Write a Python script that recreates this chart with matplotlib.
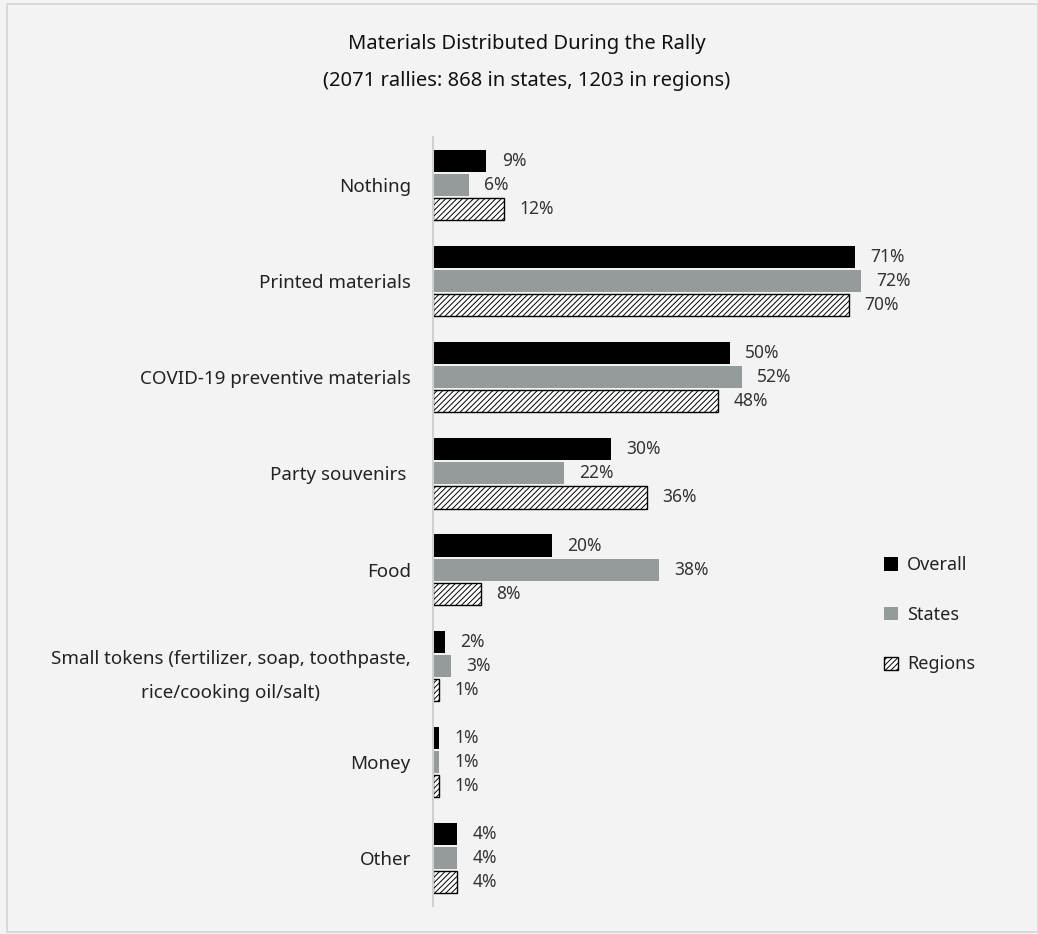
import numpy as np
import matplotlib.pyplot as plt
from matplotlib.patches import Rectangle

categories = ["Nothing", "Printed materials", "COVID-19 preventive materials", "Party souvenirs ",
              "Food", "Small tokens (fertilizer, soap, toothpaste,\nrice/cooking oil/salt)", "Money", "Other"]
overall = [9, 71, 50, 30, 20, 2, 1, 4]
states = [6, 72, 52, 22, 38, 3, 1, 4]
regions = [12, 70, 48, 36, 8, 1, 1, 4]

plt.rcParams['font.family'] = ['Noto Sans', 'DejaVu Sans']
plt.rcParams['hatch.linewidth'] = 0.7

bg = '#f2f3f2'
fig = plt.figure(figsize=(10.38, 9.34), dpi=100, facecolor=bg)
fig.patches.append(Rectangle((7/1038, 2/934), 1 - 7/1038, 1 - 6/934, transform=fig.transFigure,
                             fill=False, edgecolor='#d4d4d4', linewidth=1.2))

ax = fig.add_axes([433/1038, 1 - 906/934, 475/1038, (906 - 137)/934])
ax.set_facecolor(bg)

y = np.arange(len(categories))
h = 0.23
step = 0.25
b1 = ax.barh(y - step, overall, height=h, color='black', label='Overall')
b2 = ax.barh(y, states, height=h, color='#959a9a', label='States')
b3 = ax.barh(y + step, regions, height=h, color='white', edgecolor='black', linewidth=1.0,
             hatch='//////', label='Regions')

for bars, vals in [(b1, overall), (b2, states), (b3, regions)]:
    for bar, v in zip(bars, vals):
        ax.text(bar.get_width() + 2.6, bar.get_y() + bar.get_height() / 2, f"{v}%",
                va='center', ha='left', fontsize=12.5, color='#333333')

ax.set_xlim(0, 80)
ax.set_ylim(len(categories) - 0.5, -0.5)
ax.set_yticks(y)
ax.set_yticklabels(categories, fontsize=13.5, color='#222222', multialignment='center', linespacing=2.2)
ax.tick_params(axis='y', length=0, pad=16)
ax.set_xticks([])
for s in ['top', 'right', 'bottom']:
    ax.spines[s].set_visible(False)
ax.spines['left'].set_color('#d0d0d0')
ax.spines['left'].set_linewidth(1.5)

fig.text(527/1038, 1 - 44/934, "Materials Distributed During the Rally", ha='center', va='center',
         fontsize=14.5, color='#111111')
fig.text(527/1038, 1 - 81/934, "(2071 rallies: 868 in states, 1203 in regions)", ha='center', va='center',
         fontsize=14.5, color='#111111')

fig.legend(handles=[b1, b2, b3], loc='upper left', bbox_to_anchor=(868/1038, 1 - 540/934),
           frameon=False, fontsize=13, labelspacing=1.75, handlelength=0.75, handleheight=0.75,
           handletextpad=0.5, labelcolor='#222222')

fig.savefig('out.png', dpi=100, facecolor=bg)
